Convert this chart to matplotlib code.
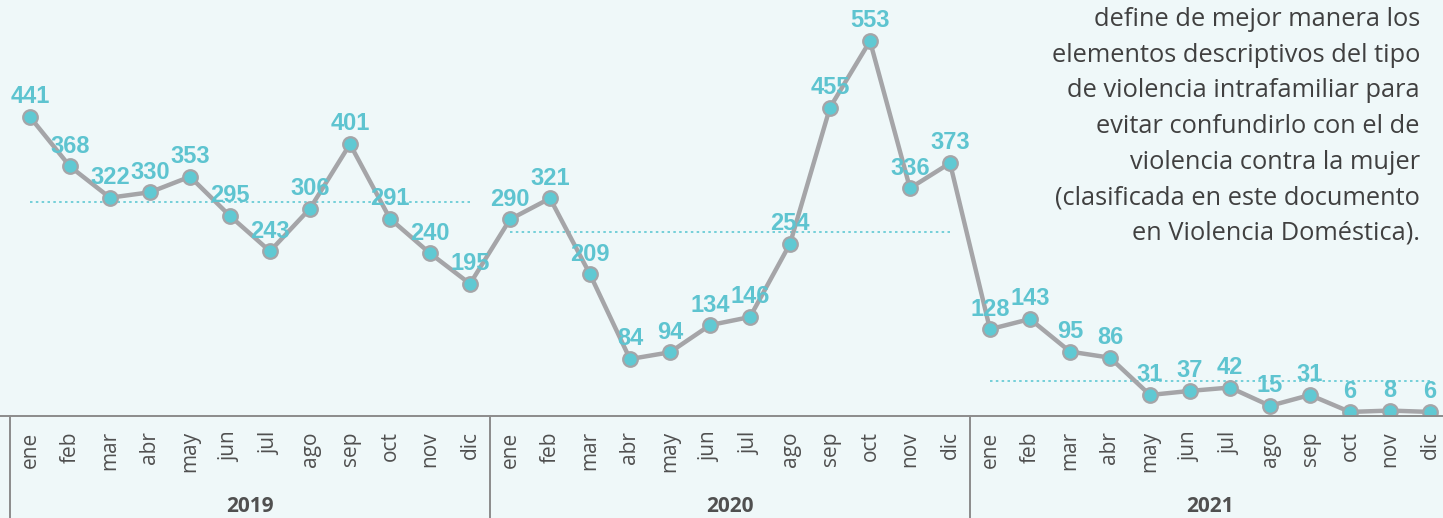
import numpy as np
import matplotlib
matplotlib.use("Agg")
import matplotlib.pyplot as plt

# ─── Data ──────────────────────────────────────────────────────────────────────

MONTHS = ["ene", "feb", "mar", "abr", "may", "jun",
          "jul", "ago", "sep", "oct", "nov", "dic"]
YEARS = ["2019", "2020", "2021"]

cases_2019 = [441, 368, 322, 330, 353, 295, 243, 306, 401, 291, 240, 195]
cases_2020 = [290, 321, 209, 84, 94, 134, 146, 254, 455, 553, 336, 373]
cases_2021 = [128, 143, 95, 86, 31, 37, 42, 15, 31, 6, 8, 6]

NOTE = ("define de mejor manera los\n"
        "elementos descriptivos del tipo\n"
        "de violencia intrafamiliar para\n"
        "evitar confundirlo con el de\n"
        "violencia contra la mujer\n"
        "(clasificada en este documento\n"
        "en Violencia Doméstica).")

# ─── Style ─────────────────────────────────────────────────────────────────────

BG = "#eff8f9"
LINE = "#a5a5a8"
CYAN = "#5fc9d3"
LABEL = "#5ec4d0"
TEXT = "#505050"
AXIS = "#8c8c8c"

W, H = 1443, 518
DPI = 100

series = [cases_2019, cases_2020, cases_2021]
values = np.concatenate(series)
x = np.arange(len(values))

fig = plt.figure(figsize=(W / DPI, H / DPI), dpi=DPI, facecolor=BG)
# axes: bottom spine at 416 px from top, 40 px per month, first month at 30 px
ax = fig.add_axes([0, (H - 416) / H, 1, 416 / H])
ax.set_facecolor(BG)
ax.set_xlim(-30 / 40, (W - 30) / 40)
ax.set_ylim(0, 416 / 0.678)

# yearly averages (dotted)
for k, s in enumerate(series):
    xs = np.arange(12) + 12 * k
    ax.plot([xs[0], xs[-1]], [np.mean(s)] * 2, ls=(0, (1.5, 2)), lw=1.2,
            color=CYAN, zorder=1)

ax.plot(x, values, color=LINE, lw=3.2, zorder=2,
        marker="o", ms=10.5, mfc=CYAN, mec=LINE, mew=1.6)

for xi, v in zip(x, values):
    ax.annotate(str(v), (xi, v), xytext=(0, 14.5), textcoords="offset points",
                ha="center", va="center", color=LABEL, fontsize=17,
                fontweight="bold", family="Liberation Sans", zorder=3,
                annotation_clip=False)

# category axis
for side in ["top", "right", "left"]:
    ax.spines[side].set_visible(False)
ax.spines["bottom"].set_color(AXIS)
ax.spines["bottom"].set_linewidth(1.4)
ax.set_yticks([])
ax.set_xticks(x)
ax.set_xticklabels(MONTHS * len(YEARS), rotation=90, fontsize=15,
                   family="Open Sans", color=TEXT, va="top")
ax.tick_params(axis="x", length=0, pad=11)

ymin = -120 / 0.678
for k in range(len(YEARS)):
    xb = 12 * k - 0.5
    ax.plot([xb, xb], [0, ymin], color=AXIS, lw=1.4, clip_on=False)
for k, yr in enumerate(YEARS):
    ax.text(12 * k + 5.5, -91 / 0.678, yr, ha="center", va="center",
            fontsize=15, fontweight="bold", family="Open Sans", color=TEXT,
            clip_on=False)

fig.text(1420 / W, 1 - 7 / H, NOTE, ha="right", va="top", fontsize=18.3,
         family="Open Sans", color="#404040", linespacing=1.56)

fig.savefig("out.png", dpi=DPI, facecolor=BG)
